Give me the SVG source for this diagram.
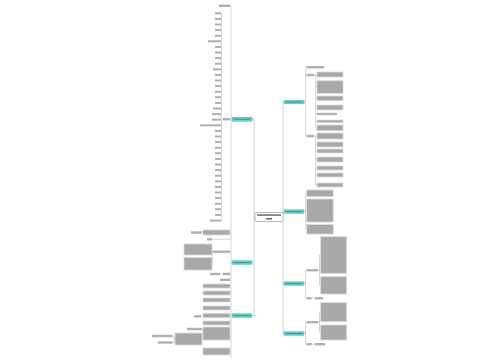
<svg xmlns="http://www.w3.org/2000/svg" width="500" height="360" viewBox="0 0 500 360">
<style>
.ln{stroke:#b8b8b8;stroke-width:0.6;fill:none}
.t{fill:#b0b0b0}
.b{fill:#a8a8a8;stroke:#dadada;stroke-width:0.8}
.br{fill:#66d6cf;stroke:#45bdb5;stroke-width:0.5}
.bt{fill:#3a9f98}
.c{fill:#ffffff;stroke:#8a8a8a;stroke-width:0.6}
.ct{fill:#666}
</style>
<rect width="500" height="360" fill="#fff"/>
<g id="connectors">
<path class="ln" d="M254 119V316M252 119H254M252 262.5H254M252 315.5H254M255 217H254"/>
<path class="ln" d="M283 102V333.5M283 102H284M283 211.5H284M283 283.5H284M283 333.5H284M283 217H283"/>
<path class="ln" d="M231 5.8V358M231 5.8H230M231 119.2H230M231 232.5H230M231 239.3H212M231 251.7H230M231 274H230M231 279.8H230M231 286H230M231 293H230M231 300H230M231 308H230M231 315.5H230M231 323H230M231 333.5H230M231 351.5H230"/>
<path class="ln" d="M221.5 13.4V220.6M221.5 119.2H223"/>
<path class="ln" d="M202.5 232.5H203M212.5 249.5V263.5M212.5 251.7H213M220 274H223M201 316.3H203M202.5 329V339M202.5 333.5H203M174 336V342.5M174 339H175M172.5 336H174M172.5 342.5H174"/>
<path class="ln" d="M305.7 67.2V136M304 102H305.7M305.7 67.2H306.5M305.7 75H306.5M305.7 136H306.5"/>
<path class="ln" d="M315.7 74.5V128M314 75H315.7M315.7 136V185M314 136H315.7"/>
<path class="ln" d="M315.7 74.5H317M315.7 87H317M315.7 98.3H317M315.7 107.5H317M315.7 114H317M315.7 121.3H317M315.7 128H317M315.7 136H317M315.7 144.5H317M315.7 151H317M315.7 159.5H317M315.7 168H317M315.7 175H317M315.7 185H317"/>
<path class="ln" d="M305.7 193.3V229.3M304 211.5H305.7M305.7 193.3H306.7M305.7 210.5H306.7M305.7 229.3H306.7"/>
<path class="ln" d="M305.7 270.2V298.2M304 283.5H305.7M305.7 270.2H306.7M305.7 298.2H306.7M311.7 298.2H315M318.2 270.2H319.5M319.5 255V285.3M319.5 255H320.7M319.5 285.3H320.7"/>
<path class="ln" d="M305.7 322.2V344.2M304 333.5H305.7M305.7 322.2H306.7M305.7 344.2H306.7M311.7 344.2H315M318.2 322.2H319.5M319.5 312.2V332.5M319.5 312.2H320.7M319.5 332.5H320.7"/>
</g>
<g id="center">
<rect class="c" x="255" y="212.5" width="28" height="9" rx="1.5"/>
<rect class="ct" x="257" y="214.3" width="24" height="1.5"/>
<rect class="ct" x="266" y="218" width="6" height="1.5"/>
</g>
<g id="L1">
<rect class="br" x="232" y="117.2" width="20" height="4"/>
<rect class="bt" x="233.5" y="118.5" width="17" height="1.3"/>
</g>
<g id="L2">
<rect class="br" x="232" y="260.8" width="20" height="3.5"/>
<rect class="bt" x="233.5" y="261.9" width="17" height="1.3"/>
</g>
<g id="L3">
<rect class="br" x="232" y="313.8" width="20" height="3.5"/>
<rect class="bt" x="233.5" y="314.9" width="17" height="1.3"/>
</g>
<g id="R1">
<rect class="br" x="284" y="100.3" width="20" height="3.5"/>
<rect class="bt" x="285.5" y="101.4" width="17" height="1.3"/>
</g>
<g id="R2">
<rect class="br" x="284" y="209.8" width="20" height="3.5"/>
<rect class="bt" x="285.5" y="210.9" width="17" height="1.3"/>
</g>
<g id="R3">
<rect class="br" x="284" y="281.8" width="20" height="3.5"/>
<rect class="bt" x="285.5" y="282.9" width="17" height="1.3"/>
</g>
<g id="R4">
<rect class="br" x="284" y="331.8" width="20" height="3.5"/>
<rect class="bt" x="285.5" y="332.9" width="17" height="1.3"/>
</g>
<g id="L1-children">
<rect class="t" x="219" y="4.6" width="11" height="2.4"/>
<rect class="t" x="223" y="118" width="7" height="2.4"/>
<g id="L1-leaves">
<rect class="t" x="215" y="12.3" width="6" height="2"/>
<rect class="t" x="215" y="17.9" width="6" height="2"/>
<rect class="t" x="215" y="23.5" width="6" height="2"/>
<rect class="t" x="215" y="29.1" width="6" height="2"/>
<rect class="t" x="215" y="34.7" width="6" height="2"/>
<rect class="t" x="208" y="40.3" width="13" height="2"/>
<rect class="t" x="215" y="45.9" width="6" height="2"/>
<rect class="t" x="215" y="51.5" width="6" height="2"/>
<rect class="t" x="215" y="57.1" width="6" height="2"/>
<rect class="t" x="215" y="62.7" width="6" height="2"/>
<rect class="t" x="213" y="68.3" width="8" height="2"/>
<rect class="t" x="215" y="73.9" width="6" height="2"/>
<rect class="t" x="215" y="79.5" width="6" height="2"/>
<rect class="t" x="215" y="85.1" width="6" height="2"/>
<rect class="t" x="215" y="90.7" width="6" height="2"/>
<rect class="t" x="215" y="96.3" width="6" height="2"/>
<rect class="t" x="215" y="101.9" width="6" height="2"/>
<rect class="t" x="213" y="107.5" width="8" height="2"/>
<rect class="t" x="212" y="113.1" width="9" height="2"/>
<rect class="t" x="212" y="118.7" width="9" height="2"/>
<rect class="t" x="200" y="124.3" width="21" height="2"/>
<rect class="t" x="215" y="129.9" width="6" height="2"/>
<rect class="t" x="215" y="135.5" width="6" height="2"/>
<rect class="t" x="215" y="141.1" width="6" height="2"/>
<rect class="t" x="215" y="146.7" width="6" height="2"/>
<rect class="t" x="215" y="152.3" width="6" height="2"/>
<rect class="t" x="215" y="157.9" width="6" height="2"/>
<rect class="t" x="215" y="163.5" width="6" height="2"/>
<rect class="t" x="215" y="169.1" width="6" height="2"/>
<rect class="t" x="215" y="174.7" width="6" height="2"/>
<rect class="t" x="215" y="180.3" width="6" height="2"/>
<rect class="t" x="215" y="185.9" width="6" height="2"/>
<rect class="t" x="215" y="191.5" width="6" height="2"/>
<rect class="t" x="215" y="197.1" width="6" height="2"/>
<rect class="t" x="215" y="202.7" width="6" height="2"/>
<rect class="t" x="215" y="208.3" width="6" height="2"/>
<rect class="t" x="215" y="213.9" width="6" height="2"/>
<rect class="t" x="210" y="219.5" width="11" height="2"/>
</g>
</g>
<g id="L2-children">
<rect class="b" x="203" y="230" width="27" height="5"/>
<rect class="t" x="191" y="231.3" width="11" height="2.4"/>
<rect class="t" x="207" y="238.1" width="5" height="2.4"/>
<rect class="t" x="213" y="250.5" width="17" height="2.4"/>
<rect class="b" x="184" y="244" width="28" height="11"/>
<rect class="b" x="184" y="257.5" width="28" height="12.5"/>
<rect class="t" x="223" y="272.8" width="7" height="2.4"/>
<rect class="t" x="210" y="272.8" width="10" height="2.4"/>
</g>
<g id="L3-children">
<rect class="t" x="220" y="278.6" width="10" height="2.4"/>
<rect class="b" x="203" y="284" width="27" height="4"/>
<rect class="b" x="203" y="291" width="27" height="4"/>
<rect class="b" x="203" y="298" width="27" height="4"/>
<rect class="b" x="203" y="306" width="27" height="4"/>
<rect class="b" x="203" y="313.3" width="27" height="4.5"/>
<rect class="b" x="203" y="321" width="27" height="4"/>
<rect class="b" x="203" y="327" width="27" height="13"/>
<rect class="b" x="203" y="348" width="27" height="7"/>
<rect class="t" x="194" y="315.1" width="7" height="2.4"/>
<rect class="t" x="187" y="327.8" width="15" height="2.4"/>
<rect class="b" x="175" y="333" width="27" height="12"/>
<rect class="t" x="152" y="334.8" width="20.5" height="2.4"/>
<rect class="t" x="158" y="341.3" width="14.5" height="2.4"/>
</g>
<g id="R1-children">
<rect class="t" x="306.5" y="66" width="17.5" height="2.4"/>
<rect class="t" x="306.5" y="73.8" width="7.5" height="2.4"/>
<rect class="t" x="306.5" y="134.8" width="7.5" height="2.4"/>
<rect class="b" x="317" y="72" width="26" height="5"/>
<rect class="b" x="317" y="80.7" width="26" height="12.6"/>
<rect class="b" x="317" y="96" width="26" height="4.7"/>
<rect class="b" x="317" y="105" width="26" height="5"/>
<rect class="t" x="317" y="112.8" width="20" height="2.4"/>
<rect class="b" x="317" y="120" width="26" height="2.7"/>
<rect class="b" x="317" y="125" width="26" height="5.7"/>
<rect class="b" x="317" y="133" width="26" height="6"/>
<rect class="b" x="317" y="142" width="26" height="5"/>
<rect class="b" x="317" y="149" width="26" height="4"/>
<rect class="b" x="317" y="157" width="26" height="5"/>
<rect class="b" x="317" y="166" width="26" height="4"/>
<rect class="b" x="317" y="173" width="26" height="4"/>
<rect class="b" x="317" y="183" width="26" height="4"/>
</g>
<g id="R2-children">
<rect class="b" x="306.7" y="190" width="26.5" height="6.7"/>
<rect class="b" x="306.7" y="199" width="26.5" height="23"/>
<rect class="b" x="306.7" y="224.5" width="26.5" height="9.5"/>
</g>
<g id="R3-children">
<rect class="t" x="306.7" y="269" width="11.5" height="2.4"/>
<rect class="b" x="320.7" y="236.7" width="26" height="36.6"/>
<rect class="b" x="320.7" y="276.7" width="26" height="17.3"/>
<rect class="t" x="306.7" y="297" width="5" height="2.4"/>
<rect class="t" x="315" y="297" width="8" height="2.4"/>
</g>
<g id="R4-children">
<rect class="t" x="306.7" y="321" width="11.5" height="2.4"/>
<rect class="b" x="320.7" y="302.7" width="26" height="19"/>
<rect class="b" x="320.7" y="325" width="26" height="15"/>
<rect class="t" x="306.7" y="343" width="5" height="2.4"/>
<rect class="t" x="315" y="343" width="10" height="2.4"/>
</g>
</svg>
